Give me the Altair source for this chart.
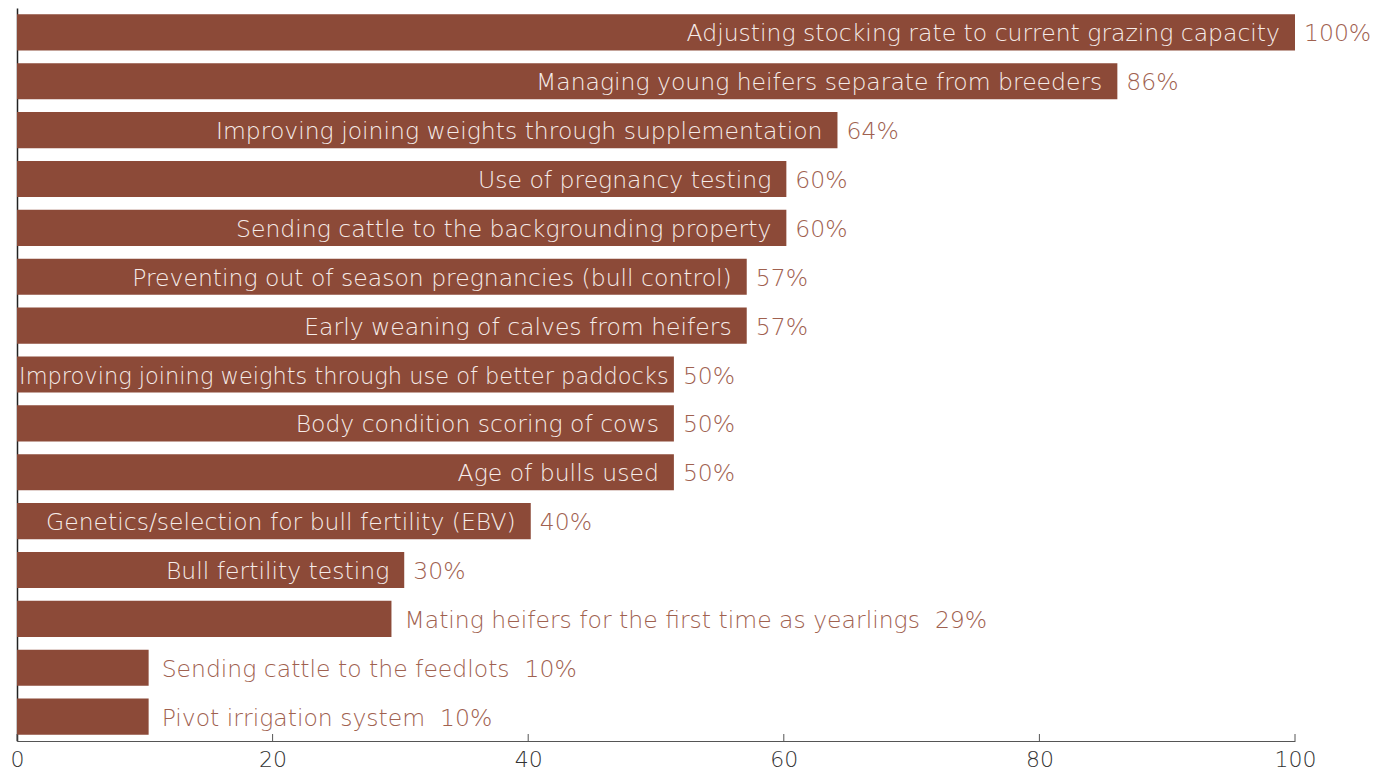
import altair as alt
import pandas as pd

labels = [
    "Adjusting stocking rate to current grazing capacity",
    "Managing young heifers separate from breeders",
    "Improving joining weights through supplementation",
    "Use of pregnancy testing",
    "Sending cattle to the backgrounding property",
    "Preventing out of season pregnancies (bull control)",
    "Early weaning of calves from heifers",
    "Improving joining weights through use of better paddocks",
    "Body condition scoring of cows",
    "Age of bulls used",
    "Genetics/selection for bull fertility (EBV)",
    "Bull fertility testing",
    "Mating heifers for the first time as yearlings",
    "Sending cattle to the feedlots",
    "Pivot irrigation system",
]
bar_values = [100, 86.1, 64.2, 60.2, 60.2, 57.1, 57.1, 51.4, 51.4, 51.4, 40.2, 30.3, 29.3, 10.3, 10.3]
pct_labels = ["100%", "86%", "64%", "60%", "60%", "57%", "57%", "50%", "50%", "50%",
              "40%", "30%", "29%", "10%", "10%"]
x_ticks = [0, 20, 40, 60, 80, 100]

BAR = "#8c4a38"
TXT = "#a0614f"
FONT = "DejaVu Sans"
FW = 200
FS = 23.5
FS_TIGHT = 22.5
W, H = 1278, 733
PAD_IN = 15

NBSP = "\u00a0"
df = pd.DataFrame({"label": labels, "value": bar_values, "pct": pct_labels})
# layout rule: label goes inside the bar when the bar is long enough
df["inside"] = df["value"] >= 30
# rough text-width estimate: labels that would run past the axis are left-aligned
est_px = df["label"].str.len() * FS * 0.5
bar_px = df["value"] / 100 * W
df["fits"] = est_px <= bar_px
df["outside_text"] = df["label"] + NBSP * 2 + df["pct"]

y_enc = alt.Y("label:N", sort=labels, title=None,
              scale=alt.Scale(paddingInner=0.263, paddingOuter=0.13),
              axis=alt.Axis(labels=False, ticks=False, domainColor="#222222",
                            domainWidth=1.5, grid=False))
x_enc = alt.X("value:Q", title=None,
              scale=alt.Scale(domain=[0, 100], nice=False),
              axis=alt.Axis(values=x_ticks, ticks=False, grid=False,
                            domainColor="#555555", labelColor="#333333",
                            labelFont=FONT, labelFontSize=22, labelFontWeight=FW,
                            labelPadding=8, labelFlush=False))
y_txt = alt.Y("label:N", sort=labels)

base = alt.Chart(df)
bars = base.mark_bar(color=BAR).encode(x=x_enc, y=y_enc)

inside_right = base.transform_filter("datum.inside && datum.fits").mark_text(
    align="right", baseline="middle", dx=-PAD_IN, dy=2, font=FONT, fontSize=FS,
    fontWeight=FW, color="#f6ece9"
).encode(x="value:Q", y=y_txt, text="label:N")

inside_left = base.transform_filter("datum.inside && !datum.fits").mark_text(
    align="left", baseline="middle", dx=2, dy=2, font=FONT, fontSize=FS_TIGHT,
    fontWeight=FW, color="#f6ece9"
).encode(x=alt.datum(0), y=y_txt, text="label:N")

inside_pct = base.transform_filter("datum.inside").mark_text(
    align="left", baseline="middle", dx=9, dy=2, font=FONT, fontSize=FS,
    fontWeight=FW, color=TXT
).encode(x="value:Q", y=y_txt, text="pct:N")

outside = base.transform_filter("!datum.inside").mark_text(
    align="left", baseline="middle", dx=13, dy=2, font=FONT, fontSize=FS,
    fontWeight=FW, color=TXT
).encode(x="value:Q", y=y_txt, text="outside_text:N")

ticks_df = pd.DataFrame({"t": x_ticks})
tick_marks = alt.Chart(ticks_df).mark_rule(color="#555555", strokeWidth=1).encode(
    x="t:Q", y=alt.value(H), y2=alt.value(H - 7)
)

chart = alt.layer(bars, inside_right, inside_left, inside_pct, outside, tick_marks).properties(
    width=W, height=H,
    autosize=alt.AutoSizeParams(type="none"),
    padding={"left": 17, "top": 8, "right": 86, "bottom": 35},
    background="white",
).configure_view(strokeWidth=0)

chart.save("out.html", embed_options={"renderer": "svg", "actions": False})
